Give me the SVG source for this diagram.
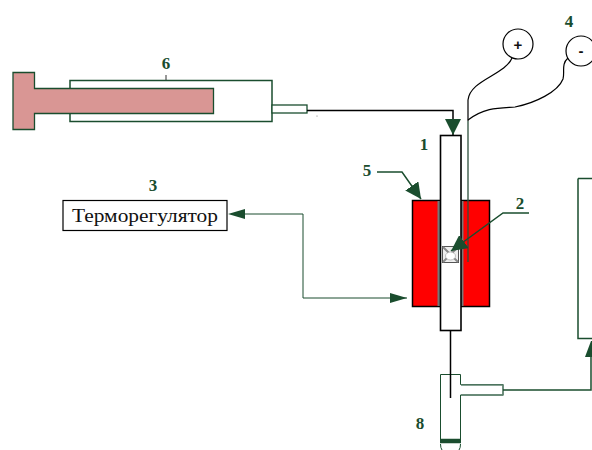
<svg xmlns="http://www.w3.org/2000/svg" width="592" height="450" viewBox="0 0 592 450">
<style>
.n{font-family:"Liberation Serif",serif;font-weight:bold;font-size:17px;fill:#1a4d2e;text-anchor:middle}
.g{fill:none;stroke:#1a4d2e;stroke-width:1.5}
.t{fill:none;stroke:#1a4d2e;stroke-width:1}
.k{fill:none;stroke:#000;stroke-width:1.5}
.w{fill:none;stroke:#000;stroke-width:1.2}
</style>
<defs>
<marker id="a" markerUnits="userSpaceOnUse" markerWidth="18" markerHeight="16" refX="16" refY="8" orient="auto"><path d="M0 0L16 8L0 16Z" fill="#1a4d2e"/></marker>
<marker id="s" markerUnits="userSpaceOnUse" markerWidth="18" markerHeight="10" refX="17" refY="5" orient="auto"><path d="M0 0L17 5L0 10Z" fill="#1a4d2e"/></marker>
</defs>
<rect width="592" height="450" fill="#fff"/>
<g id="syringe">
<rect x="70" y="80.500" width="202" height="41" fill="#fff" class="g"/>
<path d="M13 72.500H34.500V88.500H213.500V113.500H34.500V129.500H13Z" fill="#d99694" stroke="#1a4d2e" stroke-width="1.3"/>
<rect x="272" y="105" width="35" height="8" fill="#fff" stroke="#1a4d2e" stroke-width="1.3"/>
<path d="M166 75V80" stroke="#333" stroke-width="1"/>
<text class="n" x="166" y="69">6</text>
<circle cx="317" cy="116" r="0.600" fill="#777"/>
</g>
<g id="heater">
<rect x="412.500" y="200.500" width="27" height="106" fill="#f00" stroke="#000" stroke-width="1.500"/>
<rect x="461.500" y="200.500" width="28" height="106" fill="#f00" stroke="#000" stroke-width="1.500"/>
<path d="M439 201V306M462 201V306" stroke="#777" stroke-width="3"/>
</g>
<g id="tube">
<rect x="440.500" y="135.500" width="20.500" height="195" fill="#fff" stroke="#000" stroke-width="1.600"/>
</g>
<g id="sample">
<rect x="442.500" y="246.500" width="16" height="16" fill="#eee" stroke="#555" stroke-width="1"/>
<path d="M443 247L458 262M458 247L443 262" stroke="#888" stroke-width="2"/>
<ellipse cx="450.500" cy="256" rx="5" ry="4" fill="#fff" stroke="#999" stroke-width="0.600"/>
</g>
<g id="thermoregulator">
<rect x="63" y="200.500" width="164" height="30" fill="#fff" stroke="#000" stroke-width="1.200"/>
<text x="72" y="222" font-family="'Liberation Serif',serif" font-size="18" textLength="146" lengthAdjust="spacingAndGlyphs" fill="#111">Терморегулятор</text>
<text class="n" x="153" y="191">3</text>
</g>
<g id="poles">
<circle cx="518" cy="44" r="15" fill="#fff" class="w"/>
<text x="518" y="49.500" font-family="'Liberation Sans',sans-serif" font-weight="bold" font-size="15" text-anchor="middle" fill="#111">+</text>
<circle cx="581" cy="51" r="15" fill="#fff" class="w"/>
<text x="581" y="56" font-family="'Liberation Sans',sans-serif" font-weight="bold" font-size="15" text-anchor="middle" fill="#111">-</text>
<text class="n" x="569" y="27">4</text>
</g>
<g id="trap">
<path d="M440.500 374.500H460.500V384.500H503V395H460.500V442.500H440.500Z" fill="#fff" stroke="#1a4d2e" stroke-width="1"/>
<path d="M461 385H503V395H461" fill="none" stroke="#5f8270" stroke-width="1.300"/>
<path d="M440 441H461" stroke="#1a4d2e" stroke-width="4.500"/>
<path d="M440.500 444Q440.500 448 442 450M460.500 444Q460.500 448 459 450" fill="none" stroke="#1a4d2e" stroke-width="1"/>
<text class="n" x="420" y="429">8</text>
</g>
<g id="connectors">
<path class="k" d="M307 110.500H453V135" marker-end="url(#a)"/>
<path class="k" d="M450.500 331V398"/>
<path d="M468 121V262" stroke="#2d4f3c" stroke-width="1.300" fill="none"/>
<path class="w" d="M468 121V100C470 80 505 75 512 58"/>
<path class="w" d="M468 120C485 107 500 108 515 107C535 103 558 92 563 79C565 72 561 64 568 58"/>
<path class="t" d="M245 214H303V298H407" marker-end="url(#s)"/>
<path d="M228 214L245 209V219Z" fill="#1a4d2e"/>
<path class="g" d="M503 390H591V345"/>
<path d="M591 341L585 357H592V341Z" fill="#1a4d2e"/>
<path class="g" d="M578 178.500V338.500H592M578 178.500H592"/>
<path class="g" d="M377 172H402L421 199" marker-end="url(#a)"/>
<path class="g" d="M529 213H503L451 251" marker-end="url(#a)"/>
</g>
<g id="labels">
<text class="n" x="424" y="150">1</text>
<text class="n" x="367" y="176">5</text>
<text class="n" x="520" y="209">2</text>
</g>
</svg>
